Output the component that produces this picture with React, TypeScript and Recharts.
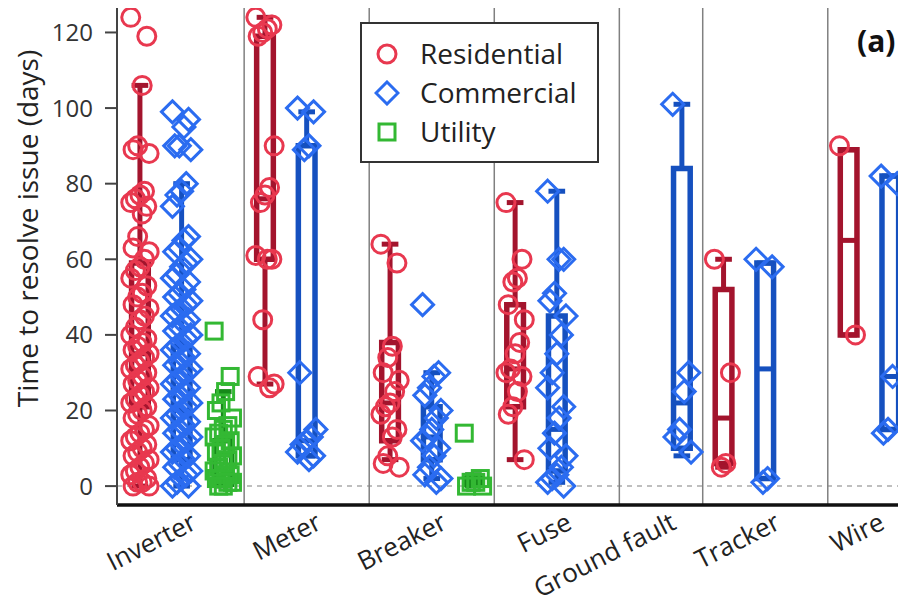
import React from 'react';
import {
  ComposedChart,
  Scatter,
  XAxis,
  YAxis,
  ReferenceLine,
  ReferenceArea,
  Legend,
} from 'recharts';

const categories = ['Inverter', 'Meter', 'Breaker', 'Fuse', 'Ground fault', 'Tracker', 'Wire'];
const slotsPerCategory = [3, 3, 3, 3, 2, 3, 2];
const yTicks = [0, 20, 40, 60, 80, 100, 120];

// time to resolve issue (days), one list per category
const residentialPoints = [
  [124, 119, 106, 90, 89, 88, 78, 77, 76, 75, 74, 72, 66, 63, 62, 60, 58, 57, 55, 53, 51, 50, 48, 47, 45, 44,
    42, 40, 39, 38, 37, 36, 35, 34, 33, 32, 31, 30, 29, 28, 27, 26, 25, 24, 23, 22, 21, 20, 19, 18, 16, 15, 14,
    13, 12, 11, 10, 9, 8, 7, 6, 5, 4, 3, 2, 1, 1, 0, 0],
  [124, 122, 121, 120, 119, 90, 79, 77, 75, 61, 60, 60, 44, 29, 27, 26],
  [64, 59, 37, 34, 30, 28, 25, 22, 21, 19, 15, 13, 8, 6, 5],
  [75, 60, 55, 54, 48, 44, 38, 35, 31, 30, 29, 25, 21, 19, 7],
  [],
  [60, 30, 6, 5],
  [90, 40],
];
const commercialPoints = [
  [99, 97, 95, 90, 90, 89, 80, 78, 77, 74, 66, 65, 63, 62, 60, 59, 58, 56, 55, 54, 52, 51, 50, 49, 48, 47, 46,
    45, 44, 43, 42, 41, 40, 39, 38, 37, 36, 35, 34, 33, 32, 31, 30, 29, 28, 27, 26, 25, 24, 23, 22, 21, 20, 19,
    18, 17, 16, 15, 14, 13, 12, 11, 10, 9, 8, 7, 6, 5, 4, 3, 2, 1, 0, 0],
  [100, 99, 90, 89, 30, 15, 13, 12, 11, 9, 8, 7],
  [48, 30, 29, 26, 24, 20, 18, 15, 13, 12, 10, 8, 5, 3, 2, 1],
  [78, 60, 60, 51, 49, 45, 40, 35, 30, 26, 21, 18, 14, 10, 8, 5, 3, 2, 1, 0],
  [101, 30, 25, 15, 13, 9],
  [60, 58, 2, 1],
  [82, 80, 29, 15, 14],
];
const utilityPoints = [
  [41, 29, 25, 22, 20, 18, 16, 15, 14, 13, 12, 11, 10, 9, 8, 7, 6, 5, 4, 3, 3, 2, 2, 1, 1, 0, 0],
  [],
  [14, 2, 1, 1, 0, 0],
  [],
  [],
  [],
  [],
];

// [min, q1, median, q3, max]
const residentialBoxes = [
  [0, 21, 35, 59, 106],
  [27, 60, 76, 119, 124],
  [7, 12, 22, 38, 64],
  [7, 21, 31, 48, 75],
  null,
  [5, 6, 18, 52, 60],
  [40, 40, 65, 89, 89],
];
const commercialBoxes = [
  [0, 7, 20, 37, 80],
  [8, 8, 12, 90, 99],
  [2, 7, 13, 21, 30],
  [1, 4, 15, 45, 78],
  [8, 10, 22, 84, 101],
  [2, 2, 31, 59, 59],
  [15, 15, 29, 82, 82],
];
const utilityBoxes = [[0, 0.5, 1.2, 12, 25], null, [0, 0.5, 1, 2, 3], null, null, null, null];

const series = [
  { name: 'Residential', slot: 0, points: residentialPoints, boxes: residentialBoxes, color: '#e8384f', boxColor: '#a3142d', shape: 'circle' },
  { name: 'Commercial', slot: 1, points: commercialPoints, boxes: commercialBoxes, color: '#2b6cf0', boxColor: '#1550bf', shape: 'diamond' },
  { name: 'Utility', slot: 2, points: utilityPoints, boxes: utilityBoxes, color: '#33b833', boxColor: '#168a1a', shape: 'square' },
];

const slotStart = slotsPerCategory.map((_, i) =>
  slotsPerCategory.slice(0, i).reduce((a, b) => a + b, 0)
);
const separators = slotStart.slice(1).map((s) => s - 0.5);
const labelTicks = slotStart.map((s, i) => s + (slotsPerCategory[i] - 1) / 2 + 0.4);

const jitter = (i: number) => (((i * 7) % 9) - 4) * 0.055;
const HW = 0.2;

const Marker = (shape: string, color: string) => (props: any) => {
  const { cx, cy } = props;
  if (cx == null || cy == null) return null;
  if (shape === 'circle')
    return <circle cx={cx} cy={cy} r={9} fill="none" stroke={color} strokeWidth={3} />;
  if (shape === 'diamond')
    return (
      <path
        d={`M${cx},${cy - 11} L${cx + 11},${cy} L${cx},${cy + 11} L${cx - 11},${cy} Z`}
        fill="none"
        stroke={color}
        strokeWidth={3}
      />
    );
  return <rect x={cx - 8} y={cy - 8} width={16} height={16} fill="none" stroke={color} strokeWidth={3} />;
};

const LegendIcon = ({ shape, color }: { shape: string; color: string }) => (
  <svg width={26} height={26}>
    {shape === 'circle' && <circle cx={13} cy={13} r={9} fill="none" stroke={color} strokeWidth={3} />}
    {shape === 'diamond' && <path d="M13,2 L24,13 L13,24 L2,13 Z" fill="none" stroke={color} strokeWidth={3} />}
    {shape === 'square' && <rect x={5} y={5} width={16} height={16} fill="none" stroke={color} strokeWidth={3} />}
  </svg>
);

const renderLegend = () => (
  <div
    style={{
      border: '2px solid #333',
      background: '#fff',
      padding: '10px 20px 10px 12px',
      fontSize: 28,
      color: '#222',
      lineHeight: '39px',
    }}
  >
    {series.map((s) => (
      <div key={s.name} style={{ display: 'flex', alignItems: 'center' }}>
        <LegendIcon shape={s.shape} color={s.color} />
        <span style={{ marginLeft: 20 }}>{s.name}</span>
      </div>
    ))}
  </div>
);

const CategoryTick = (props: any) => {
  const { x, y, payload } = props;
  const idx = labelTicks.findIndex((t) => Math.abs(t - payload.value) < 1e-6);
  const ty = y + 23;
  return (
    <text x={x} y={ty} textAnchor="end" fontSize={26} fill="#222" transform={`rotate(-27, ${x}, ${ty})`}>
      {categories[idx]}
    </text>
  );
};

const YLabel = (props: any) => {
  const { viewBox } = props;
  const x = 38;
  const y = viewBox.y + viewBox.height / 2 - 27;
  return (
    <text x={x} y={y} textAnchor="middle" fontSize={28} fill="#222" transform={`rotate(-90, ${x}, ${y})`}>
      Time to resolve issue (days)
    </text>
  );
};

export default function App() {
  const scatterData = series.map((s) =>
    s.points.flatMap((vals, ci) =>
      vals.map((v, i) => ({ x: slotStart[ci] + s.slot + jitter(i), y: v }))
    )
  );

  const boxEls: React.ReactNode[] = [];
  series.forEach((s) => {
    s.boxes.forEach((b, ci) => {
      if (!b) return;
      const [mn, q1, med, q3, mx] = b;
      const xc = slotStart[ci] + s.slot;
      const k = `${s.name}-${ci}`;
      const line = { stroke: s.boxColor, strokeWidth: 5, ifOverflow: 'visible' as const };
      boxEls.push(
        <ReferenceLine key={`${k}-wu`} segment={[{ x: xc, y: q3 }, { x: xc, y: mx }]} {...line} />,
        <ReferenceLine key={`${k}-wd`} segment={[{ x: xc, y: mn }, { x: xc, y: q1 }]} {...line} />,
        <ReferenceLine key={`${k}-cu`} segment={[{ x: xc - HW, y: mx }, { x: xc + HW, y: mx }]} {...line} />,
        <ReferenceLine key={`${k}-cd`} segment={[{ x: xc - HW, y: mn }, { x: xc + HW, y: mn }]} {...line} />,
        <ReferenceArea
          key={`${k}-box`}
          x1={xc - HW}
          x2={xc + HW}
          y1={q1}
          y2={q3}
          fill="none"
          fillOpacity={0}
          stroke={s.boxColor}
          strokeWidth={5.5}
          ifOverflow="visible"
        />,
        <ReferenceLine key={`${k}-med`} segment={[{ x: xc - HW, y: med }, { x: xc + HW, y: med }]} {...line} />
      );
    });
  });

  return (
    <div
      style={{
        margin: -8,
        width: 906,
        height: 607,
        overflow: 'hidden',
        position: 'relative',
        fontFamily: '"Open Sans", sans-serif',
        background: '#fff',
      }}
    >
      <ComposedChart width={932} height={607} margin={{ top: 6, right: 0, bottom: 0, left: 0 }}>
        <XAxis
          type="number"
          dataKey="x"
          domain={[-0.55, 19]}
          ticks={labelTicks}
          tick={CategoryTick}
          tickLine={false}
          tickSize={0}
          tickMargin={0}
          axisLine={{ stroke: '#111', strokeWidth: 3.5 }}
          height={102}
          allowDataOverflow
          interval={0}
        />
        <YAxis
          type="number"
          dataKey="y"
          domain={[-5, 127]}
          ticks={yTicks}
          width={117}
          tick={{ fill: '#333', fontSize: 24 }}
          tickLine={{ stroke: '#444', strokeWidth: 2 }}
          tickSize={12}
          tickMargin={12}
          axisLine={{ stroke: '#444', strokeWidth: 2 }}
          allowDataOverflow
          label={<YLabel />}
        />
        <ReferenceLine y={127} stroke="#555" strokeWidth={2} ifOverflow="visible" />
        <ReferenceLine y={0} stroke="#aaa" strokeWidth={1.5} strokeDasharray="5 5" />
        {separators.map((x) => (
          <ReferenceLine key={`sep-${x}`} x={x} stroke="#808080" strokeWidth={1.5} />
        ))}
        {series.map((s, i) => (
          <Scatter
            key={s.name}
            name={s.name}
            data={scatterData[i]}
            dataKey="y"
            shape={Marker(s.shape, s.color)}
            isAnimationActive={false}
          />
        ))}
        {boxEls}
        <Legend
          layout="vertical"
          align="center"
          verticalAlign="middle"
          content={renderLegend}
          wrapperStyle={{ position: 'absolute', left: 360, top: 22, width: 'auto', height: 'auto' }}
        />
      </ComposedChart>
      <div
        style={{
          position: 'absolute',
          left: 857,
          top: 20,
          fontSize: 30,
          fontWeight: 700,
          color: '#111',
        }}
      >
        (a)
      </div>
    </div>
  );
}
